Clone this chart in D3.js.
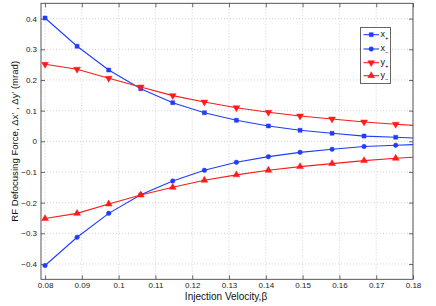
<!DOCTYPE html>
<html><head><meta charset="utf-8">
<script src="https://cdn.jsdelivr.net/npm/d3@7"></script>
<style>body{margin:0;background:#fff}svg{display:block;font-family:"Liberation Sans",Arial,sans-serif}</style>
</head><body><svg id="c" width="436" height="306"></svg>
<script>
const beta = [0.08, 0.0887, 0.0973, 0.106, 0.1147, 0.1233, 0.132, 0.1407, 0.1493, 0.158, 0.1667, 0.1753, 0.184];
const xPlus  = [0.402, 0.310, 0.2325, 0.1715, 0.126, 0.093, 0.0685, 0.050, 0.036, 0.026, 0.017, 0.013, 0.009];
const xMinus = [-0.405, -0.313, -0.235, -0.174, -0.1295, -0.0946, -0.0685, -0.050, -0.036, -0.026, -0.017, -0.013, -0.009];
const yPlus  = [0.251, 0.235, 0.2055, 0.177, 0.149, 0.128, 0.1095, 0.0945, 0.0826, 0.0727, 0.063, 0.0554, 0.049];
const yMinus = [-0.252, -0.235, -0.2045, -0.175, -0.150, -0.127, -0.1095, -0.0945, -0.0826, -0.0727, -0.063, -0.0554, -0.049];
const xTicks = [0.08, 0.09, 0.1, 0.11, 0.12, 0.13, 0.14, 0.15, 0.16, 0.17, 0.18];
const yTicks = [-0.4, -0.3, -0.2, -0.1, 0, 0.1, 0.2, 0.3, 0.4];
const seriesNames = ["x", "x", "y", "y"];
const seriesSubs = ["+", "\u2212", "+", "\u2212"];

const L = 41, R = 413, T = 3.3, B = 279.3;
const svg = d3.select("#c");
const x = d3.scaleLinear().domain([0.0789, 0.18]).range([L, R]);
const y = d3.scaleLinear().domain([-0.45, 0.45]).range([B, T]);
const fmt = v => (v === 0 ? "0" : String(+v.toFixed(2)).replace("-", "\u2212"));

// grid
const g = svg.append("g");
g.selectAll(".gx").data(xTicks).join("line")
  .attr("x1", d => x(d)).attr("x2", d => x(d)).attr("y1", T).attr("y2", B)
  .attr("stroke", "#c8c8c8").attr("stroke-width", 0.8).attr("stroke-dasharray", "1,2");
g.selectAll(".gy").data(yTicks).join("line")
  .attr("x1", L).attr("x2", R).attr("y1", d => y(d)).attr("y2", d => y(d))
  .attr("stroke", "#c8c8c8").attr("stroke-width", 0.8).attr("stroke-dasharray", "1,2");

// axes
const axCol = "#444";
const axB = svg.append("g").attr("transform", `translate(0,${B})`)
  .call(d3.axisBottom(x).tickValues(xTicks).tickSize(-4).tickPadding(3).tickFormat(fmt));
const axT = svg.append("g").attr("transform", `translate(0,${T})`)
  .call(d3.axisTop(x).tickValues(xTicks).tickSize(-4).tickFormat(""));
const axL = svg.append("g").attr("transform", `translate(${L},0)`)
  .call(d3.axisLeft(y).tickValues(yTicks).tickSize(-4).tickPadding(4).tickFormat(fmt));
const axR = svg.append("g").attr("transform", `translate(${R},0)`)
  .call(d3.axisRight(y).tickValues(yTicks).tickSize(-4).tickFormat(""));
[axB, axT, axL, axR].forEach(a => {
  a.selectAll("path").remove();
  a.selectAll("line").attr("stroke", axCol).attr("stroke-width", 0.8);
  a.selectAll("text").attr("font-size", 8).attr("fill", "#222").attr("font-family", "Liberation Sans, Arial, sans-serif");
});
svg.append("rect").attr("x", L).attr("y", T).attr("width", R - L).attr("height", B - T)
  .attr("fill", "none").attr("stroke", axCol).attr("stroke-width", 0.9);

// clip
svg.append("clipPath").attr("id", "clip").append("rect")
  .attr("x", L).attr("y", T).attr("width", R - L).attr("height", B - T);
const plot = svg.append("g").attr("clip-path", "url(#clip)");

const blue = "#1f3cff", red = "#ff1a1a";
const series = [
  {vals: xPlus, color: blue, sym: d3.symbolSquare, size: 16, rot: 0},
  {vals: xMinus, color: blue, sym: d3.symbolCircle, size: 16, rot: 0},
  {vals: yPlus, color: red, sym: d3.symbolTriangle, size: 20, rot: 180},
  {vals: yMinus, color: red, sym: d3.symbolTriangle, size: 20, rot: 0}
];
const line = d3.line().x(d => x(d[0])).y(d => y(d[1]));
series.forEach(s => {
  const pts = beta.map((b, i) => [b, s.vals[i]]);
  plot.append("path").attr("d", line(pts)).attr("fill", "none")
    .attr("stroke", s.color).attr("stroke-width", 1.1);
  plot.selectAll(null).data(pts).join("path")
    .attr("d", d3.symbol().type(s.sym).size(s.size))
    .attr("transform", d => `translate(${x(d[0])},${y(d[1])}) rotate(${s.rot})`)
    .attr("fill", s.color).attr("stroke", s.color).attr("stroke-width", 0.5);
});

// labels
svg.append("text").attr("x", 226).attr("y", 299.5).attr("text-anchor", "middle")
  .attr("font-size", 10).attr("fill", "#111").text("Injection Velocity,\u03B2");
svg.append("text").attr("transform", `translate(17.5,${(T + B) / 2}) rotate(-90)`)
  .attr("text-anchor", "middle").attr("font-size", 9.6).attr("fill", "#111")
  .text("RF Defocusing Force, \u0394x\u2032 , \u0394y\u2032 (mrad)");

// legend
const lg = svg.append("g");
lg.append("rect").attr("x", 360.5).attr("y", 27.5).attr("width", 30).attr("height", 56)
  .attr("fill", "#fff").attr("stroke", "#555").attr("stroke-width", 0.9);
const ly = [34.7, 49, 62.7, 75.7];
series.forEach((s, i) => {
  lg.append("line").attr("x1", 363.5).attr("x2", 379).attr("y1", ly[i]).attr("y2", ly[i])
    .attr("stroke", s.color).attr("stroke-width", 1.1);
  lg.append("path").attr("d", d3.symbol().type(s.sym).size(s.size))
    .attr("transform", `translate(371.2,${ly[i]}) rotate(${s.rot})`)
    .attr("fill", s.color).attr("stroke", s.color).attr("stroke-width", 0.5);
  const t = lg.append("text").attr("x", 380.5).attr("y", ly[i] + 2).attr("font-size", 9).attr("fill", "#111");
  t.append("tspan").text(seriesNames[i]);
  t.append("tspan").attr("dy", 3).attr("font-size", 6).text(seriesSubs[i]);
});
</script></body></html>
